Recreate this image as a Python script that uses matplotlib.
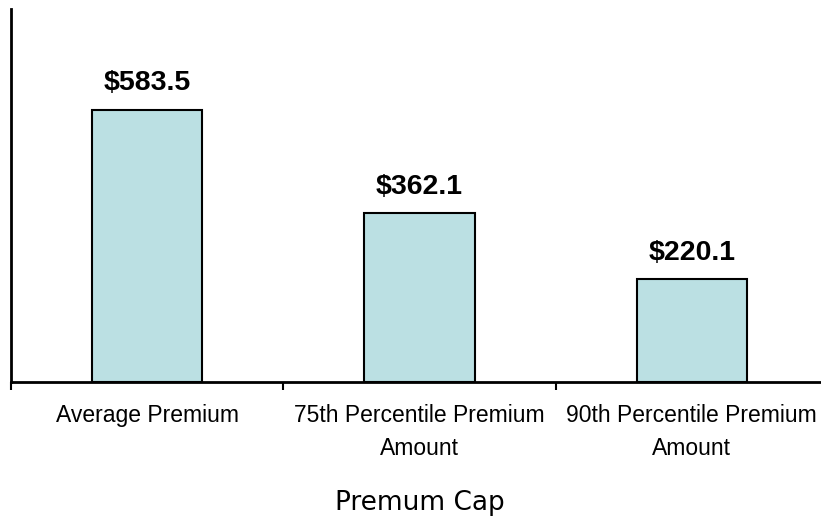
import matplotlib
matplotlib.use("Agg")
import matplotlib.pyplot as plt

categories = ["Average Premium", "75th Percentile Premium\nAmount", "90th Percentile Premium\nAmount"]
values = [583.5, 362.1, 220.1]
labels = ["$583.5", "$362.1", "$220.1"]

fig = plt.figure(figsize=(8.21, 5.18), dpi=100)
ax = fig.add_axes([11 / 821, 136 / 518, 817 / 821, 373 / 518])

x = range(len(values))
bars = ax.bar(x, values, width=0.405, color="#BBE0E3", edgecolor="black", linewidth=1.5)

for xi, v, lab in zip(x, values, labels):
    ax.annotate(lab, (xi, v), xytext=(0, 14), textcoords="offset points",
                ha="center", va="baseline", fontsize=20.5, fontweight="bold",
                family="Liberation Sans")

ax.set_xlim(-0.5, 2.5)
ax.set_ylim(0, 800)
ax.set_yticks([])

# boundary ticks (major) and category labels (minor)
ax.set_xticks([-0.5, 0.5, 1.5, 2.5])
ax.set_xticklabels([])
ax.tick_params(axis="x", which="major", direction="out", length=5.5, width=1.5)
ax.set_xticks(list(x), minor=True)
ax.set_xticklabels(categories, minor=True, fontsize=16.5, family="Liberation Sans",
                   linespacing=1.55)
ax.tick_params(axis="x", which="minor", length=0, pad=16)

for s in ["top", "right"]:
    ax.spines[s].set_visible(False)
ax.spines["left"].set_linewidth(2)
ax.spines["bottom"].set_linewidth(2)

ax.set_xlabel("Premum Cap", fontsize=19, family="DejaVu Sans")
ax.xaxis.set_label_coords(409 / 817, -108 / 373)

fig.savefig("out.png", dpi=100)
